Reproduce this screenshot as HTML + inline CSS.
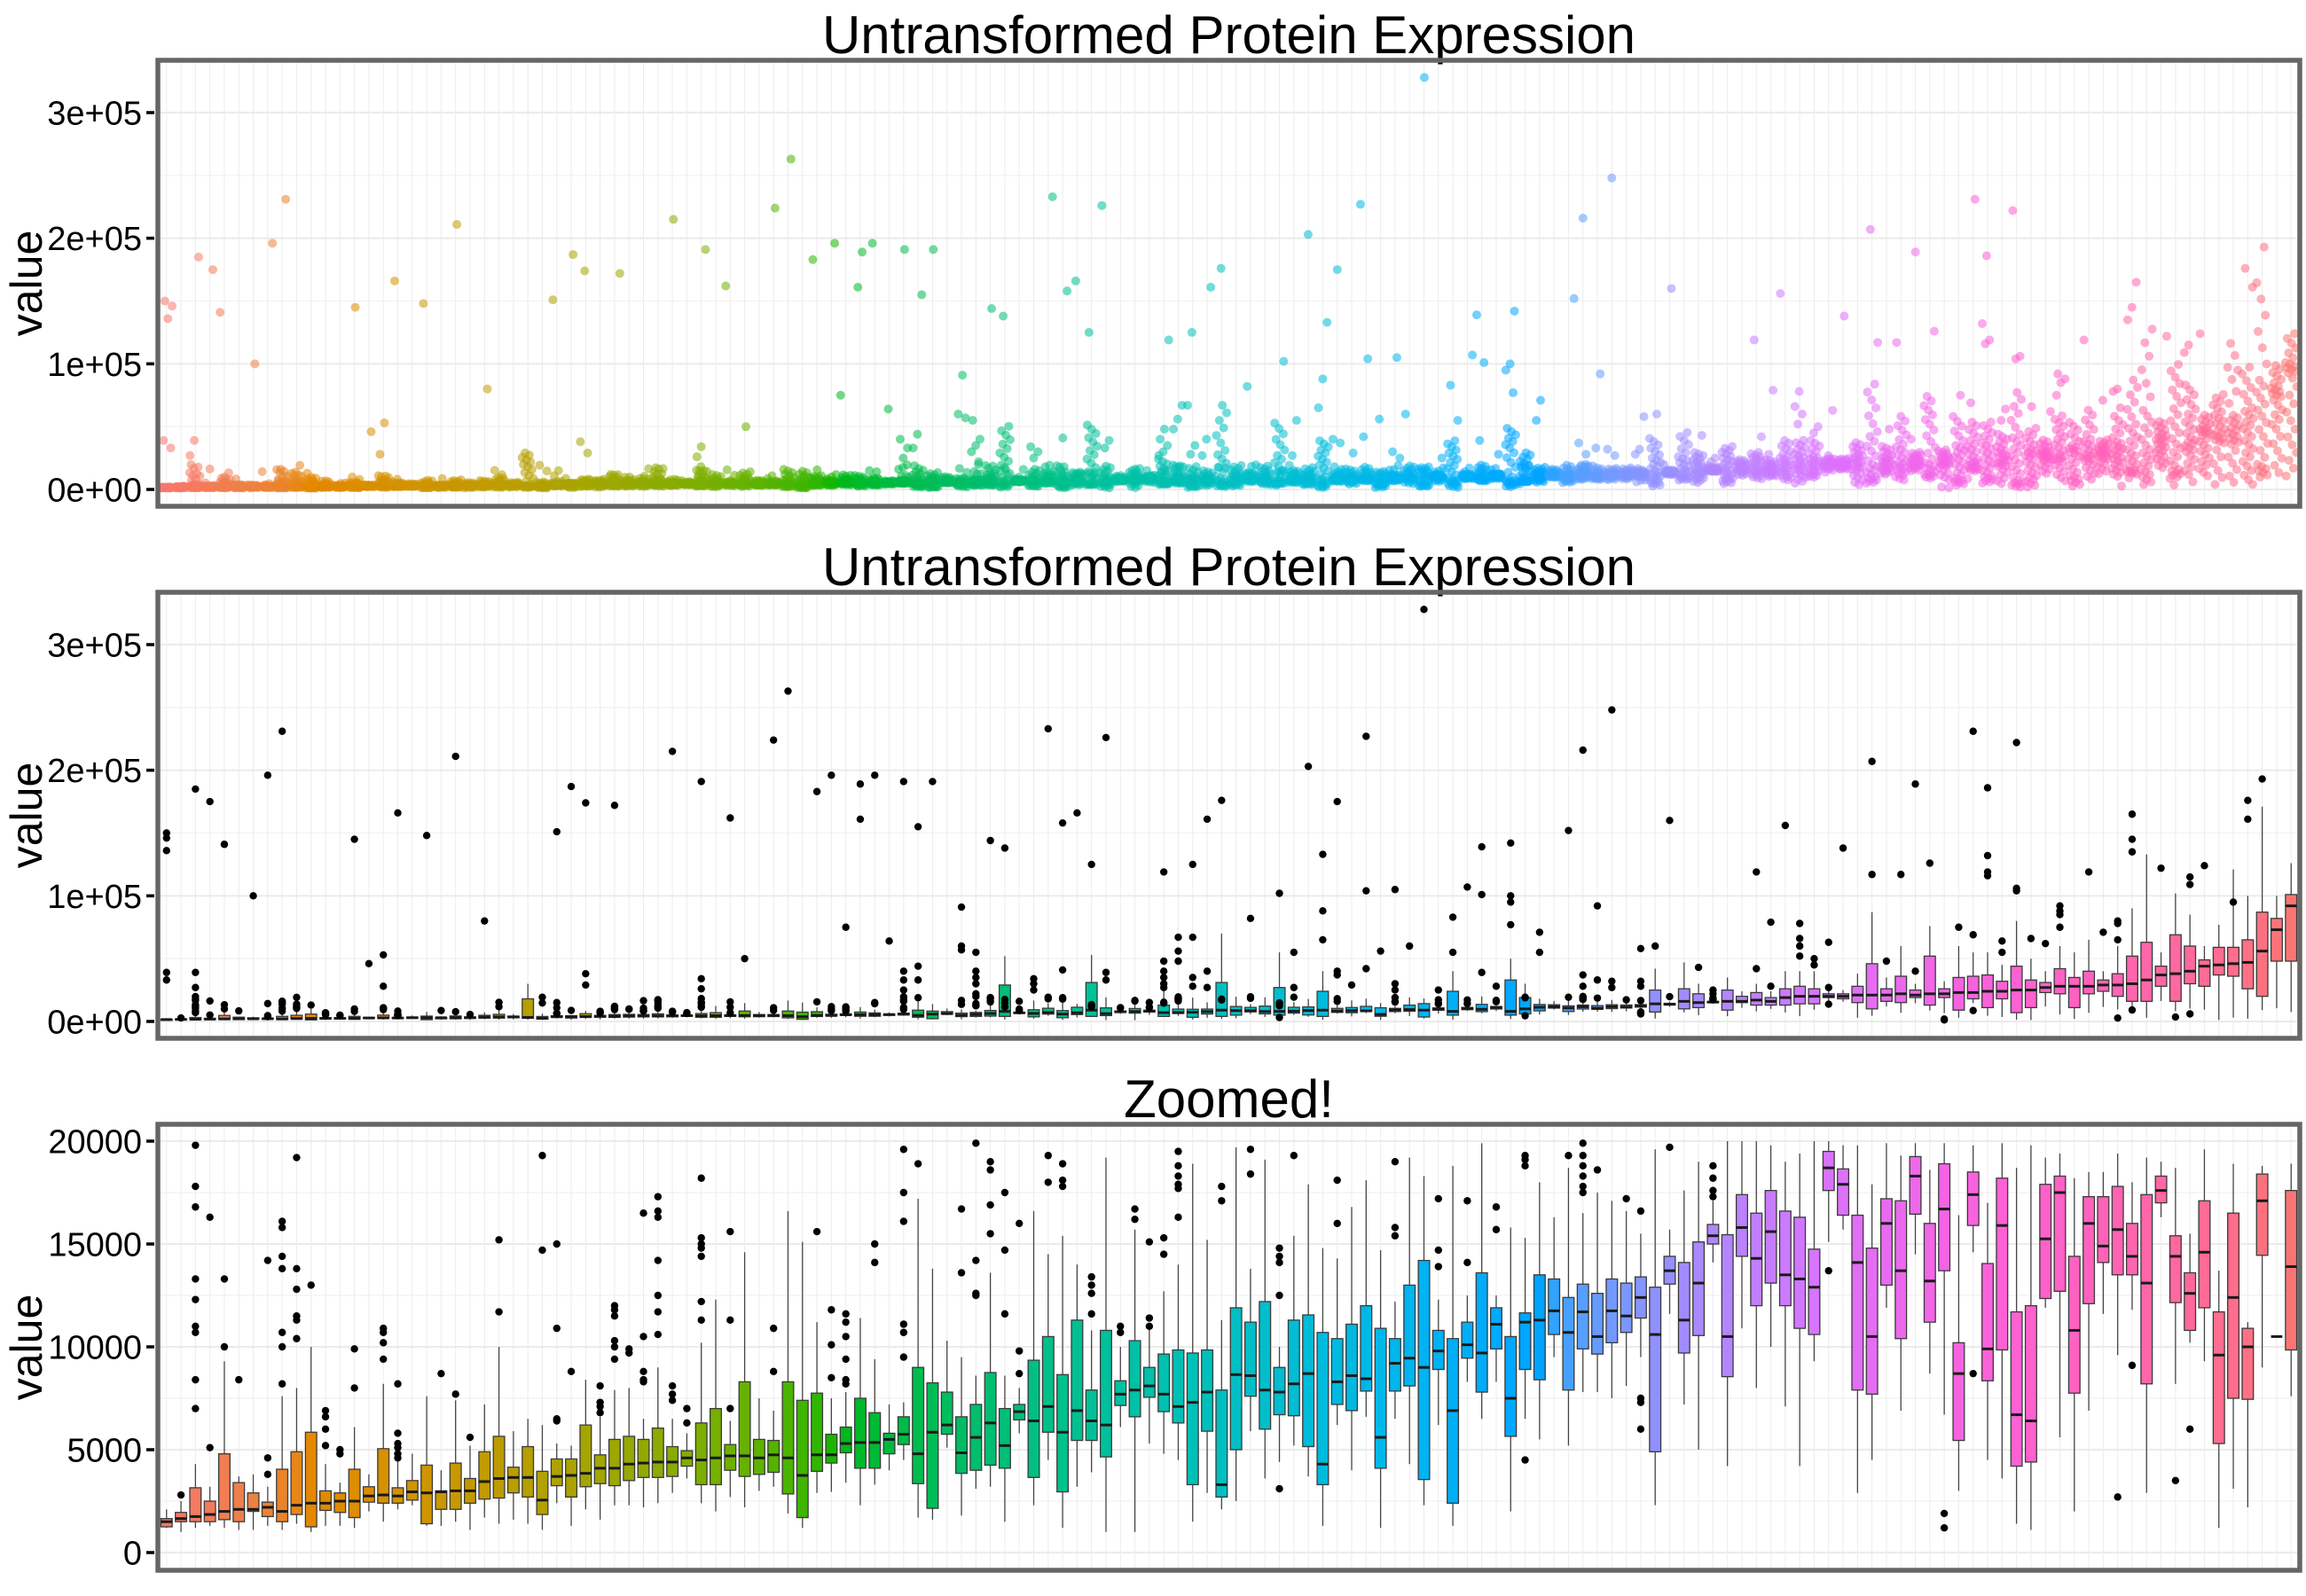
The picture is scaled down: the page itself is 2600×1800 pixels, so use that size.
<!DOCTYPE html>
<html><head><meta charset="utf-8"><style>
html,body{margin:0;padding:0;background:#fff;}
svg{display:block;}
text{font-family:"Liberation Sans",Arial,sans-serif;fill:#000;}
</style></head><body>
<svg id="chart" xmlns="http://www.w3.org/2000/svg" width="2600" height="1800" viewBox="0 0 2600 1800"></svg>
<script>
// ---- zoomed (<=20000) box stats, thousands, per category 1..148 ----
const q1Z=[1.25,1.5,1.5,1.5,1.6,1.5,2.0,1.75,1.5,1.85,1.25,2.05,1.95,1.7,2.45,2.4,2.4,2.55,1.4,2.1,2.1,2.4,2.6,2.65,2.9,2.7,1.85,3.25,2.7,3.2,3.35,3.25,3.5,3.65,3.65,3.7,4.2,3.3,3.3,4.0,3.7,3.8,3.9,2.85,1.7,
3.95,4.35,4.85,4.1,4.1,4.8,5.25,3.35,2.15,5.75,3.85,4.0,4.25,4.1,6.45,3.65,5.85,2.95,5.45,5.45,4.65,7.15,6.6,7.55,6.85,6.3,3.3,5.9,2.7,5.0,7.6,6.0,6.7,6.65,5.15,3.3,7.2,6.9,7.85,4.1,7.85,8.1,3.55,8.9,2.4,9.45,7.8,9.9,5.65,8.9,8.4,10.6,7.9,9.9,9.65,
10.2,10.7,11.4,4.9,13.05,9.7,10.55,15.0,8.55,14.4,12.0,13.1,12.0,10.9,10.6,17.6,16.4,7.9,7.7,13.0,10.4,16.45,11.2,13.7,5.45,15.9,8.35,9.85,4.2,4.4,12.35,12.7,7.75,12.1,14.1,13.5,13.5,8.2,17.0,12.15,10.8,11.9,5.3,7.5,7.45,14.45,25,9.85];
const medZ=[1.5,1.65,1.75,1.85,2.0,2.1,2.1,2.2,2.0,2.3,2.4,2.4,2.5,2.5,2.75,2.8,2.75,2.95,2.9,2.95,3.0,3.0,3.45,3.6,3.65,3.65,2.55,3.7,3.75,3.85,4.1,4.1,4.3,4.35,4.4,4.4,4.6,4.5,4.6,4.7,4.7,4.6,4.75,4.6,3.75,
4.75,4.75,5.3,5.35,5.35,5.5,5.75,4.8,5.85,6.2,4.85,5.6,6.3,5.2,6.85,6.4,7.1,5.85,6.9,6.4,6.2,7.7,7.9,8.1,7.7,7.1,7.3,7.8,3.3,8.65,8.6,7.9,7.8,8.2,8.7,4.3,8.3,8.6,8.45,5.6,9.2,9.45,9.0,9.8,6.9,10.1,9.7,11.1,7.5,11.2,11.3,11.75,10.7,11.7,10.5,
11.75,11.5,12.4,10.6,13.7,11.3,13.1,15.4,10.5,15.8,14.3,15.6,13.5,13.3,12.9,18.7,17.9,14.1,10.5,16.0,13.7,18.3,13.2,16.7,8.7,17.4,9.9,15.9,6.7,6.4,15.25,17.5,10.8,16.0,14.9,15.7,14.4,13.1,17.6,14.4,12.6,14.6,9.6,12.4,10.0,17.1,10.5,13.9];
const q3Z=[1.65,1.95,3.15,2.5,4.8,3.4,2.9,2.45,4.05,4.9,5.85,3.0,2.9,4.05,3.2,5.05,3.15,3.5,4.25,3.0,4.35,3.6,4.9,5.65,4.15,5.15,3.95,4.55,4.55,6.2,4.75,5.5,5.65,5.5,6.05,5.15,4.95,6.3,7.0,5.25,8.3,5.5,5.45,8.3,7.4,
7.75,5.75,6.1,7.5,6.8,5.8,6.6,9.0,8.25,7.8,6.6,7.2,8.75,7.0,7.2,9.35,10.5,8.65,11.3,7.9,10.8,8.35,10.3,9.0,9.65,9.85,9.7,9.85,7.9,11.9,11.2,12.2,9.0,11.3,11.55,10.7,10.4,11.1,12.0,10.9,10.4,13.0,14.2,10.8,10.4,11.2,13.6,11.9,10.5,11.65,13.5,13.3,12.4,13.05,12.6,
13.3,13.1,13.4,12.9,14.4,14.1,15.1,15.95,15.45,17.4,16.5,17.6,16.6,16.3,14.75,19.5,18.65,16.4,14.8,17.2,17.1,19.25,16.0,18.9,10.2,18.5,14.05,18.2,11.7,12.0,17.9,18.3,14.4,17.3,17.3,17.8,16.0,17.4,18.3,15.4,13.6,17.1,11.7,16.5,10.9,18.4,25,17.6];
const loZ=[1.2,1.0,1.2,1.3,1.2,1.1,1.1,1.3,1.1,1.4,1.0,1.3,1.3,1.2,2.0,1.5,2.1,2.3,1.3,1.3,1.5,1.1,1.7,1.4,1.6,1.4,1.1,2.4,1.3,2.1,1.6,2.3,2.3,2.2,2.4,2.9,3.6,2.4,2.0,2.7,2.2,3.0,3.2,1.9,1.2,
2.9,2.95,3.4,2.3,3.3,4.0,4.5,1.7,1.6,5.1,1.8,3.1,3.2,1.5,5.8,2.3,4.5,1.2,3.2,3.9,1.0,6.1,1.0,5.3,4.8,4.5,1.5,2.9,2.1,2.5,5.9,3.6,4.4,5.2,3.7,1.3,6.2,4.0,6.6,1.2,6.5,4.3,2.3,6.2,1.3,8.3,6.5,8.3,2.0,6.5,5.5,9.5,5.2,7.8,7.8,
7.5,8.1,9.5,2.3,11.6,7.2,5.0,14.1,4.2,10.9,8.0,10.0,7.1,4.2,9.3,15.1,15.7,2.9,4.5,11.9,6.9,14.5,8.7,6.7,3.0,14.6,4.5,3.6,1.4,1.1,11.9,5.6,2.0,6.9,11.6,9.6,11.8,2.9,16.3,8.2,10.2,9.3,1.2,3.1,2.2,9.0,10.5,7.6];
const hiZ=[2.1,2.5,4.3,3.2,9.3,3.7,3.8,3.2,7.6,8.0,10.0,4.3,3.4,6.1,3.8,8.2,4.8,4.8,7.6,4.0,7.4,5.2,7.2,10.0,5.9,6.5,6.2,5.3,5.2,8.4,6.6,7.9,8.0,6.5,9.0,6.5,5.8,10.2,12.3,6.4,14.6,7.5,6.9,16.6,15.1,
11.2,7.5,7.8,11.4,9.4,7.2,7.3,17.2,13.8,10.3,9.5,8.6,13.6,8.6,8.0,16.6,14.5,15.4,14.0,10.8,19.2,10.0,15.7,11.1,12.7,14.0,18.9,15.2,11.3,19.7,13.8,19.1,10.0,15.4,17.9,14.8,14.3,16.8,18.1,14.7,12.2,19.2,18.3,12.3,18.8,12.5,19.9,12.5,15.8,15.3,18.0,16.3,18.7,16.5,17.5,
17.1,16.6,15.5,19.6,15.7,17.6,19.0,17.1,20.0,20.0,20.0,19.8,19.0,19.4,20.0,20.0,19.8,19.8,17.9,19.9,19.3,19.9,18.6,19.9,16.4,19.8,17.0,19.9,18.7,19.8,19.2,19.4,18.2,18.5,18.5,19.4,18.0,19.2,19.0,18.7,15.5,19.6,13.7,18.9,11.2,18.8,10.5,18.9];
// outliers within zoom range (thousands), by category index (0-based)
const outZoom={1:[2.8],2:[19.8,17.8,16.8,13.3,12.3,11.0,10.7,8.4,7.0],3:[16.3,5.1],4:[13.3,10.0],5:[8.4],7:[14.2,4.6,3.8],8:[16.1,15.8,14.4,13.8,10.7,10.0,8.2],9:[19.2,13.8,12.8,11.5,11.3,10.4],10:[13.0],11:[6.9,6.6,6.0,5.2],12:[5.0,4.8],13:[9.9,8.0],15:[10.9,10.7,10.2,9.4],16:[8.2,5.8,5.3,5.1,4.8,4.6],19:[8.7],20:[7.7],21:[5.6],23:[15.2,11.7],26:[19.3,14.7],27:[15.0,10.9,6.5,6.4],28:[8.8],30:[8.1,7.3,7.1,6.8],31:[12.0,11.8,11.5,10.3,10.0,9.4],32:[9.9,9.7],33:[16.5,10.5,8.8,8.4,8.3],34:[17.3,16.6,16.3,14.2,12.5,11.7,10.6],35:[8.1,7.7,7.4],36:[7.0,6.3],37:[18.2,15.3,15.0,14.8,14.4,12.2,11.3],39:[15.6,11.3,7.0],42:[10.9,8.8],
45:[15.6],46:[11.8,10.1,8.5],47:[11.6,11.2,10.5,9.4,8.4,8.2],49:[15.0,14.1],51:[19.6,17.5,16.1,11.1,10.7,9.5],52:[18.9],55:[16.7,13.6],56:[19.9,14.2,12.6,12.5],57:[19.0,18.6,16.9,15.5],58:[17.5,14.7,11.6],59:[16.0,9.8,8.7],61:[19.3,18.0],62:[18.9,18.1,17.8],64:[13.4,13.0,12.6,11.6],66:[11.0,10.7],67:[16.7,16.2],68:[15.1,11.4,11.0],69:[15.3,14.5],70:[19.5,18.8,18.3,17.9,17.7,16.3],73:[17.8,17.1],75:[19.6,18.4],77:[14.8,14.4,14.1,12.5,3.1],78:[19.3],81:[18.1,16.0],85:[19.0,15.8,15.4],88:[17.2,14.7,13.9],90:[17.1,14.1],92:[16.8,15.7],94:[19.3,19.1,18.8,4.5],97:[19.3],98:[19.9,19.3,18.8,18.3,17.8,17.5],99:[18.6],
101:[17.2],102:[16.6,7.5,7.3,6.0],104:[19.7],107:[18.8,18.2,17.6,17.3],115:[13.7],123:[1.9,1.2],125:[8.7],135:[2.7],136:[9.1],139:[3.5],140:[6.0]};
// large outliers (thousands) visible in full-scale panels
const outHigh={0:[150,146,136,39,33],2:[185,39,27],3:[175],4:[141],6:[100],7:[196],8:[231],13:[145],14:[46],15:[53,28],16:[166],18:[148],20:[211],22:[80],27:[151],28:[187],29:[174,38,29],31:[172],35:[215],37:[191,34,26],39:[162],40:[50],42:[224],43:[263],45:[183],46:[196],47:[75],48:[189,161],49:[196],50:[64],51:[191,40,33,25],52:[155,44,33],53:[191],55:[91,60,57],56:[55,40,35,30,22],57:[144],58:[138],60:[34,30,25],61:[233],62:[158,41],63:[166],64:[125],65:[226,39,33],69:[119,48,40,35,30,27],70:[67,56,48],71:[125,67,35,28],72:[161,40,27],73:[176],75:[82],77:[102],78:[55,27],79:[203],80:[133,88,65],81:[175,40,37],82:[29],83:[227,104,42],84:[56],85:[105,30,25],86:[60],87:[328],88:[25],89:[83,55],90:[107],91:[139,101,39],92:[28],93:[142,100,95,77],95:[71,55],97:[152],98:[216,37,28],99:[92,33],100:[248,32,27],102:[58,32,28],103:[60],104:[160],106:[43],107:[25,22],110:[119,42],111:[79,28],112:[156],113:[78,66,60,52],114:[50,45],115:[63,27],116:[138],118:[207,117],119:[48],120:[117],121:[189,40],122:[126],124:[75],125:[231,69],126:[186,132,119,116],127:[64,55],128:[222,106,104],129:[66],130:[62],131:[92,88,85,75],133:[119],134:[71],135:[80,78,65],136:[165,145,135],138:[122],140:[115,109],141:[124],143:[95],144:[176,161],145:[193]};
// full-scale stats where they differ from zoomed stats: [q1, median, q3, upper whisker] (thousands)
const fullStats={25:[2.5,3.2,18,30],58:[4,8,29,52],64:[4,9,31,53],69:[4,7,13,25],73:[4,9,31,70],77:[5,8,27,55],80:[4,9,24,40],89:[5,8,24,40],93:[5,8,33,50],94:[6,10,19,30],
103:[7.5,14,25,42],105:[10,16,26,47],106:[11,15,22,30],108:[9,16,25,35],109:[15,16,20,24],110:[13,17,23,30],111:[13,16,19,24],112:[13,19,26,40],113:[14,20,28,40],114:[14,20,26,40],115:[19,20,22,25],116:[18,20,22,25],117:[15,21,28,38],118:[10,21,46,87],119:[16,21,26,35],120:[15,22,36,60],121:[19,21,25,30],122:[13,22,52,76],123:[19,22,26,32],124:[9,23,35,60],125:[18,23,36,55],126:[11,24,37,55],127:[18,24,32,45],128:[7,25,44,80],129:[11,25,33,50],130:[23,27,31,40],131:[22,28,42,60],132:[11,28,35,55],133:[22,28,40,65],134:[24,29,33,40],135:[20,29,38,60],136:[16,30,52,90],137:[16,33,63,133],138:[28,37,44,55],139:[16,38,69,102],140:[30,40,60,85],141:[28,44,49,60],142:[37,45,59,77],143:[36,46,59,121],144:[26,47,65,100],145:[20,56,87,171],146:[48,73,82,100],147:[48,92,101,126]};
const tickBig=[0,100000,200000,300000];
const tickBigLabels=["0e+00","1e+05","2e+05","3e+05"];
const tickZoom=[0,5000,10000,15000,20000];
const tickZoomLabels=["0","5000","10000","15000","20000"];

const NS="http://www.w3.org/2000/svg";
const svg=document.getElementById('chart');
const N=q1Z.length;
const L=178,R=2593,PH=503;
const tops=[68,668,1268];
const sp=(R-L)/(N-1+1.2);
function xc(i){return L+(0.6+i)*sp;}
function yBig(top,v){return top+484-v*425/300000;}
function yZ(v){return 1268+483-v*464/20000;}
function mk(tag,attrs,parent){const e=document.createElementNS(NS,tag);for(const k in attrs)e.setAttribute(k,attrs[k]);(parent||svg).appendChild(e);return e;}
function hue(i){
  const h=(15+360*i/N)*Math.PI/180,Lc=65,C=100;
  const u=C*Math.cos(h),v=C*Math.sin(h);
  const Y=Math.pow((Lc+16)/116,3);
  const un=0.19783,vn=0.46832;
  const up=u/(13*Lc)+un,vp=v/(13*Lc)+vn;
  const X=Y*9*up/(4*vp),Z=Y*(12-3*up-20*vp)/(4*vp);
  let r=3.2406*X-1.5372*Y-0.4986*Z,g=-0.9689*X+1.8758*Y+0.0415*Z,b=0.0557*X-0.2040*Y+1.0570*Z;
  const f=c=>{c=c<=0.0031308?12.92*c:1.055*Math.pow(c,1/2.4)-0.055;return Math.round(255*Math.min(1,Math.max(0,c)));};
  return 'rgb('+f(r)+','+f(g)+','+f(b)+')';
}
function stats(i,full){
  const s=[loZ[i],q1Z[i],medZ[i],q3Z[i],hiZ[i]].map(v=>v*1000);
  if(full&&fullStats[i]){const f=fullStats[i];s[1]=f[0]*1000;s[2]=f[1]*1000;s[3]=f[2]*1000;s[4]=f[3]*1000;}
  return s;
}
function panelFrame(p,title,ticks,labels,yf){
  const top=tops[p];
  const g=mk('g',{});
  
  
  mk('rect',{x:L,y:top,width:R-L,height:PH,fill:'#fff'},g);
  for(let k=0;k<ticks.length-1;k++){const y=yf((ticks[k]+ticks[k+1])/2);mk('line',{x1:L,x2:R,y1:y,y2:y,stroke:'#f4f4f4','stroke-width':1.5},g);}
  for(let i=0;i<N;i++){const l=mk('line',{x1:xc(i),x2:xc(i),y1:top,y2:top+PH,stroke:'#ececec','stroke-width':1},g);}
  ticks.forEach((t,k)=>{const y=yf(t);
    const gl=mk('line',{x1:L,x2:R,y1:y,y2:y,stroke:'#ebebeb','stroke-width':2},g);
    
    const tm=mk('line',{x1:165,x2:174,y1:y,y2:y,stroke:'#000','stroke-width':3.5},svg);
    
    const tx=mk('text',{x:160,y:y+13.5,'text-anchor':'end','font-size':38},svg);
    tx.textContent=labels[k];
    
  });
  const tt=mk('text',{x:(L+R)/2,y:top-8,'text-anchor':'middle','font-size':60},svg);
  tt.textContent=title;
  
  const yl=mk('text',{x:0,y:0,'text-anchor':'middle','font-size':50,transform:'translate(47,'+(top+PH/2)+') rotate(-90)'},svg);
  yl.textContent='value';
  
  const cp=mk('clipPath',{id:'clip'+p},svg);
  mk('rect',{x:L,y:top,width:R-L,height:PH},cp);
  const data=mk('g',{'clip-path':'url(#clip'+p+')'},svg);
  
  
  return data;
}
function border(p){const b=mk('rect',{x:L,y:tops[p],width:R-L,height:PH,fill:'none',stroke:'#666','stroke-width':5.5});}

// ---------- Panel 1: jittered points ----------
{
  const yf=v=>yBig(tops[0],v);
  const g=panelFrame(0,'Untransformed Protein Expression',tickBig,tickBigLabels,yf);
  const n=26;
  for(let i=0;i<N;i++){
    const s=stats(i,true),col=hue(i);
    const vals=[];
    for(let j=0;j<n;j++){const p=(j+0.5)/n*4,k=Math.min(3,Math.floor(p)),f=p-k;vals.push(s[k]+(s[k+1]-s[k])*f);}
    (outZoom[i]||[]).forEach(v=>vals.push(v*1000));
    (outHigh[i]||[]).forEach(v=>vals.push(v*1000));
    vals.forEach((v,j)=>{
      const jit=(((i*37+j*61)%97)/97-0.5)*0.8*sp;
      const c=mk('circle',{cx:xc(i)+jit,cy:yf(v),r:5,fill:col,'fill-opacity':0.55},g);
      
      
    });
  }
  border(0);
}
// ---------- Box panels ----------
function boxPanel(p,title,ticks,labels,yf,full){
  const g=panelFrame(p,title,ticks,labels,yf);
  const bw=0.78*sp;
  for(let i=0;i<N;i++){
    const s=stats(i,full),col=hue(i),x=xc(i);
    const bg=mk('g',{},g);
    
    
    const cap=v=>full?v:Math.min(v,20000);
    if(!full&&s[3]>20000){
      mk('line',{x1:x-bw/2,x2:x+bw/2,y1:yf(s[2]),y2:yf(s[2]),stroke:'#1a1a1a','stroke-width':3},bg);
      continue;
    }
    mk('line',{x1:x,x2:x,y1:yf(cap(s[4])),y2:yf(s[3]),stroke:'#444','stroke-width':1.3},bg);
    mk('line',{x1:x,x2:x,y1:yf(s[1]),y2:yf(s[0]),stroke:'#444','stroke-width':1.3},bg);
    mk('rect',{x:x-bw/2,y:yf(s[3]),width:bw,height:Math.max(1,yf(s[1])-yf(s[3])),fill:col,stroke:'#3a3a3a','stroke-width':1.3},bg);
    mk('line',{x1:x-bw/2,x2:x+bw/2,y1:yf(s[2]),y2:yf(s[2]),stroke:'#1a1a1a','stroke-width':3},bg);
    const outs=(outZoom[i]||[]).concat(full?(outHigh[i]||[]):[]);
    outs.forEach(v=>{
      const c=mk('circle',{cx:x,cy:yf(v*1000),r:4.2,fill:'#000'},bg);
      
      
    });
  }
  border(p);
}
boxPanel(1,'Untransformed Protein Expression',tickBig,tickBigLabels,v=>yBig(tops[1],v),true);
boxPanel(2,'Zoomed!',tickZoom,tickZoomLabels,yZ,false);
</script>
</body></html>
